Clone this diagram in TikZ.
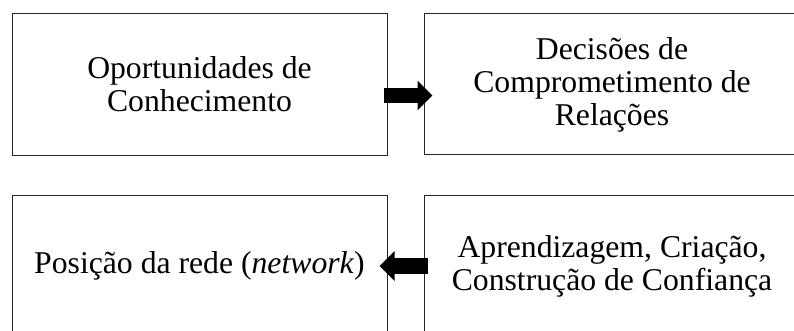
\documentclass[tikz,border=0pt]{standalone}
\usepackage{fontspec}
\setmainfont{Liberation Serif}
\usetikzlibrary{arrows.meta,calc}
\begin{document}
\begin{tikzpicture}[x=1pt,y=-1pt,
  box/.style={draw=black!85, line width=1pt, minimum width=375pt, minimum height=142pt,
    align=center, inner sep=0pt, font={\fontsize{31.7pt}{33pt}\selectfont}},
  blockarrow/.style={line width=15.5pt, -{Triangle[length=15pt,width=29pt]}}]
\useasboundingbox (0,0) rectangle (794,331);
\node[box] (tl) at (199.5,84.5) {Oportunidades de\\Conhecimento};
\node[box, minimum width=376pt, minimum height=141pt] (tr) at (612,84.5) {Decisões de\\Comprometimento de\\Relações};
\node[box] (bl) at (199.5,266) {Posição da rede (\textit{network})};
\node[box, minimum width=376pt] (br) at (612,266) {Aprendizagem, Criação,\\Construção de Confiança};
\draw[blockarrow] ($(tl.east)+(-4,11)$) -- ($(tr.west)+(9,11)$);
\draw[blockarrow] ($(br.west)+(4,0)$) -- ($(bl.east)+(-8,0)$);
\end{tikzpicture}
\end{document}
